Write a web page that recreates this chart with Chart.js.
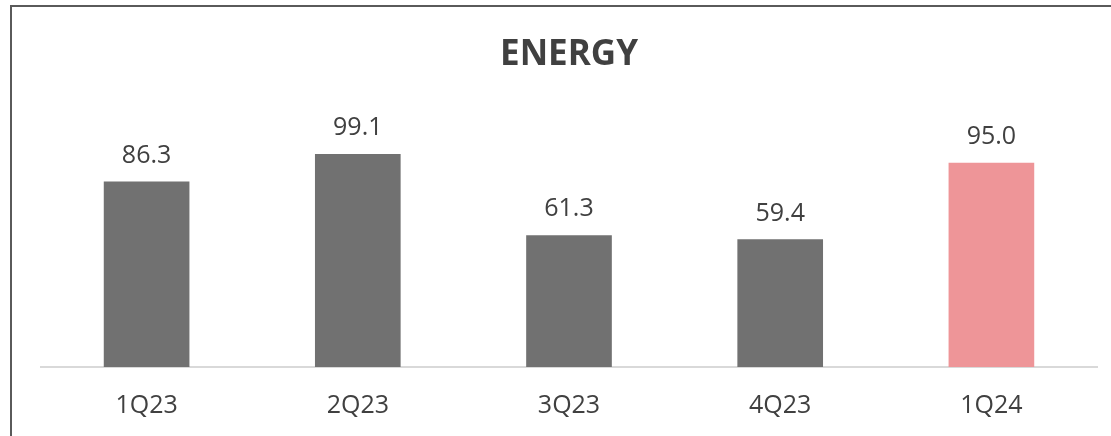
<!DOCTYPE html>
<html>
<head>
<meta charset="utf-8">
<title>Energy</title>
<script src="https://cdn.jsdelivr.net/npm/chart.js@4/dist/chart.umd.min.js"></script>
<style>
    html, body { margin: 0; padding: 0; background: #fff; overflow: hidden; }
    #wrap { position: relative; width: 1111px; height: 436px; }
    #frame {
        position: absolute; left: 10px; top: 5px; width: 1200px; height: 500px;
        border-top: 2px solid #5a5a5a; border-left: 2px solid #5a5a5a;
        pointer-events: none;
    }
    canvas { position: absolute; left: 0; top: 0; }
</style>
</head>
<body>
<div id="wrap">
    <canvas id="energy" width="1111" height="436"></canvas>
    <div id="frame"></div>
</div>
<script>
    const quarters = ['1Q23', '2Q23', '3Q23', '4Q23', '1Q24'];
    const energy = [86.3, 99.1, 61.3, 59.4, 95.0];
    const barColors = ['#717171', '#717171', '#717171', '#717171', '#ee9598'];

    const textColor = '#404040';

    // value labels drawn above each bar
    const valueLabels = {
        id: 'valueLabels',
        afterDatasetsDraw(chart) {
            const ctx = chart.ctx;
            const meta = chart.getDatasetMeta(0);
            ctx.save();
            ctx.font = '25px "Open Sans"';
            ctx.fillStyle = textColor;
            ctx.textAlign = 'center';
            ctx.textBaseline = 'alphabetic';
            meta.data.forEach((bar, i) => {
                ctx.fillText(energy[i].toFixed(1), bar.x, bar.y - 19);
            });
            ctx.restore();
        }
    };

    const ctx = document.getElementById('energy').getContext('2d');
    new Chart(ctx, {
        type: 'bar',
        data: {
            labels: quarters,
            datasets: [{
                data: energy,
                backgroundColor: barColors,
                barThickness: 85,
                borderWidth: 0
            }]
        },
        options: {
            responsive: false,
            animation: false,
            layout: { padding: { left: 41, right: 14, top: 14, bottom: 16 } },
            plugins: {
                legend: { display: false },
                tooltip: { enabled: false },
                title: {
                    display: true,
                    text: 'ENERGY',
                    fullSize: false,
                    color: textColor,
                    font: { family: '"Open Sans"', size: 35, weight: 'bold', lineHeight: 1.2 },
                    padding: { top: 20, bottom: 33.5 }
                }
            },
            scales: {
                x: {
                    grid: { display: false, drawTicks: false },
                    border: { display: true, color: '#d9d9d9', width: 2 },
                    ticks: {
                        color: textColor,
                        padding: 24,
                        font: { family: '"Open Sans"', size: 25 }
                    },
                    afterFit(scale) {
                        scale.height = 53;
                    }
                },
                y: {
                    display: false,
                    min: 0,
                    max: 120
                }
            }
        },
        plugins: [valueLabels]
    });
</script>
</body>
</html>
